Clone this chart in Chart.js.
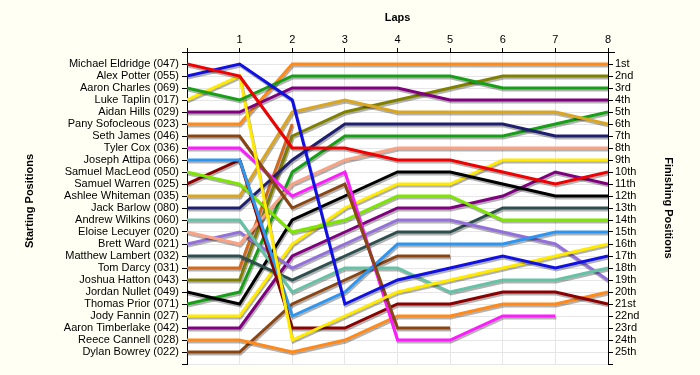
<!DOCTYPE html>
<html>
<head>
<meta charset="utf-8">
<script src="https://cdn.jsdelivr.net/npm/chart.js@4/dist/chart.umd.min.js"></script>
<style>
html,body{margin:0;padding:0;background:#fffff3;}
#c{display:block;}
</style>
</head>
<body>
<canvas id="c" width="700" height="375"></canvas>
<script>
// ---- data ----
const laps = [0, 1, 2, 3, 4, 5, 6, 7, 8];
const lapLabels = ['', '1', '2', '3', '4', '5', '6', '7', '8'];
const drivers = ["Michael Eldridge (047)", "Alex Potter (055)", "Aaron Charles (069)", "Luke Taplin (017)",
  "Aidan Hills (029)", "Pany Sofocleous (023)", "Seth James (046)", "Tyler Cox (036)", "Joseph Attipa (066)",
  "Samuel MacLeod (050)", "Samuel Warren (025)", "Ashlee Whiteman (035)", "Jack Barlow (080)",
  "Andrew Wilkins (060)", "Eloise Lecuyer (020)", "Brett Ward (021)", "Matthew Lambert (032)",
  "Tom Darcy (031)", "Joshua Hatton (043)", "Jordan Nullet (049)", "Thomas Prior (071)",
  "Jody Fannin (027)", "Aaron Timberlake (042)", "Reece Cannell (028)", "Dylan Bowrey (022)"];
const finishLabels = ['1st','2nd','3rd','4th','5th','6th','7th','8th','9th','10th','11th','12th','13th',
  '14th','15th','16th','17th','18th','19th','20th','21st','22nd','23rd','24th','25th'];

const eldridge   = [1, 2, 8, 8, 9, 9, 10, 11, 10];
const potter     = [2, 1, 4, 21, 19, 18, 17, 18, 17];
const charles    = [3, 4, 2, 2, 2, 2, 3, 3, 3];
const taplin     = [4, 2, 24, 22, 20, 19, 18, 17, 16];
const hills      = [5, 5, 3, 3, 3, 4, 4, 4, 4];
const sofocleous = [6, 6, 1, 1, 1, 1, 1, 1, 1];
const james      = [7, 7, 13, 11, 23, 23, null, null, null];
const cox        = [8, 8, 12, 10, 24, 24, 22, 22, null];
const attipa     = [9, 9, 22, 20, 16, 16, 16, 15, 15];
const macleod    = [10, 11, 15, 14, 12, 12, 14, 14, 14];
const warren     = [11, 9, 23, 23, 21, 21, 20, 20, 21];
const whiteman   = [12, 12, 5, 4, 5, 5, 5, 5, 6];
const barlow     = [13, 13, 9, 6, 6, 6, 6, 7, 7];
const wilkins    = [14, 14, 20, 18, 18, 20, 19, 19, 18];
const lecuyer    = [15, 16, 11, 9, 8, 8, 8, 8, 8];
const ward       = [16, 15, 18, 16, 14, 14, 15, 16, 19];
const lambert    = [17, 17, 19, 17, 15, 15, 13, 13, 13];
const darcy      = [18, 18, 6, null, null, null, null, null, null];
const hatton     = [19, 19, 7, 5, 4, 3, 2, 2, 2];
const nullet     = [20, 21, 14, 12, 10, 10, 11, 12, 12];
const prior      = [21, 20, 10, 7, 7, 7, 7, 6, 5];
const fannin     = [22, 22, 16, 13, 11, 11, 9, 9, 9];
const timberlake = [23, 23, 17, 15, 13, 13, 12, 10, 11];
const cannell    = [24, 24, 25, 24, 22, 22, 21, 21, 20];
const bowrey     = [25, 25, 21, 19, 17, 17, null, null, null];

const series = [eldridge, potter, charles, taplin, hills, sofocleous, james, cox, attipa, macleod,
  warren, whiteman, barlow, wilkins, lecuyer, ward, lambert, darcy, hatton, nullet, prior, fannin,
  timberlake, cannell, bowrey];

const colors = ['#f00000', '#1010e6', '#16a016', '#ffea00', '#800080', '#ff8a1a', '#8b4513', '#ff1aff',
  '#2e96f0', '#7ce600', '#8b0000', '#daa520', '#1f1f70', '#66c2a5', '#f9a384', '#9370db', '#2f4f4f',
  '#d2691e', '#808000', '#000000', '#16a016', '#ffea00', '#800080', '#ff8a1a', '#8b4513'];

const FONT = 'Liberation Sans, Arial, sans-serif';

const datasets = series.map((s, i) => ({
  label: drivers[i],
  data: laps.map((l, j) => ({x: l, y: s[j]})),
  borderColor: colors[i],
  backgroundColor: colors[i],
  borderWidth: 3,
  pointRadius: 0,
  tension: 0,
  fill: false,
  spanGaps: false
}));

const bgPlugin = {
  id: 'bg',
  beforeDraw(chart) {
    const {ctx, chartArea: a} = chart;
    ctx.save();
    ctx.fillStyle = '#fffff3';
    ctx.fillRect(0, 0, chart.width, chart.height);
    ctx.fillStyle = '#ffffff';
    ctx.fillRect(a.left, a.top, a.right - a.left, a.bottom - a.top);
    ctx.restore();
  },
  beforeDatasetsDraw(chart) {
    const ctx = chart.ctx;
    ctx.save();
    ctx.shadowColor = 'rgba(0,0,0,0.3)';
    ctx.shadowOffsetX = 1;
    ctx.shadowOffsetY = 2;
    ctx.shadowBlur = 0;
  },
  afterDatasetsDraw(chart) {
    chart.ctx.restore();
  },
  afterDraw(chart) {
    const {ctx, chartArea: a} = chart;
    ctx.save();
    ctx.strokeStyle = '#000';
    ctx.lineWidth = 1;
    ctx.beginPath();
    ctx.moveTo(a.left - 5, a.top + 0.5);
    ctx.lineTo(a.right + 7, a.top + 0.5);
    ctx.stroke();
    ctx.fillStyle = '#000';
    ctx.font = 'bold 11px ' + FONT;
    ctx.textAlign = 'center';
    ctx.textBaseline = 'middle';
    ctx.fillText('Laps', (a.left + a.right) / 2, 18);
    ctx.save();
    ctx.translate(30, 201);
    ctx.rotate(-Math.PI / 2);
    ctx.fillText('Starting Positions', 0, 0);
    ctx.restore();
    ctx.save();
    ctx.translate(668, 208);
    ctx.rotate(Math.PI / 2);
    ctx.fillText('Finishing Positions', 0, 0);
    ctx.restore();
    ctx.restore();
  }
};

const gridCol = '#e6e6e6';
const posTicks = s => { s.ticks = Array.from({length: 27}, (_, i) => ({value: i})); };

new Chart(document.getElementById('c'), {
  type: 'line',
  data: {datasets},
  plugins: [bgPlugin],
  options: {
    responsive: false,
    animation: false,
    layout: {padding: {bottom: 11}},
    plugins: {legend: {display: false}, tooltip: {enabled: false}},
    scales: {
      x: {
        type: 'linear', position: 'top', min: 0, max: 8,
        afterBuildTicks: s => { s.ticks = laps.map(v => ({value: v})); },
        afterFit: s => { s.height = 52; },
        ticks: {autoSkip: false, maxRotation: 0, padding: 1, color: '#000',
          font: {family: FONT, size: 11}, callback: v => lapLabels[v] ?? ''},
        grid: {color: gridCol, tickColor: '#000', tickLength: 4, lineWidth: 1},
        border: {color: '#000', width: 1}
      },
      y: {
        type: 'linear', position: 'left', min: 0, max: 26, reverse: true,
        afterBuildTicks: posTicks,
        afterFit: s => { s.width = 187; },
        ticks: {autoSkip: false, padding: 3, color: '#000',
          font: {family: FONT, size: 11}, callback: v => drivers[v - 1] || ''},
        grid: {color: gridCol, tickColor: '#000', tickLength: 5, lineWidth: 1},
        border: {color: '#000', width: 1}
      },
      y2: {
        type: 'linear', position: 'right', min: 0, max: 26, reverse: true,
        afterBuildTicks: posTicks,
        afterFit: s => { s.width = 92; },
        ticks: {autoSkip: false, padding: 2, color: '#000',
          font: {family: FONT, size: 11}, callback: v => finishLabels[v - 1] || ''},
        grid: {drawOnChartArea: false, tickColor: '#000', tickLength: 5},
        border: {color: '#000', width: 1}
      }
    }
  }
});
</script>
</body>
</html>
